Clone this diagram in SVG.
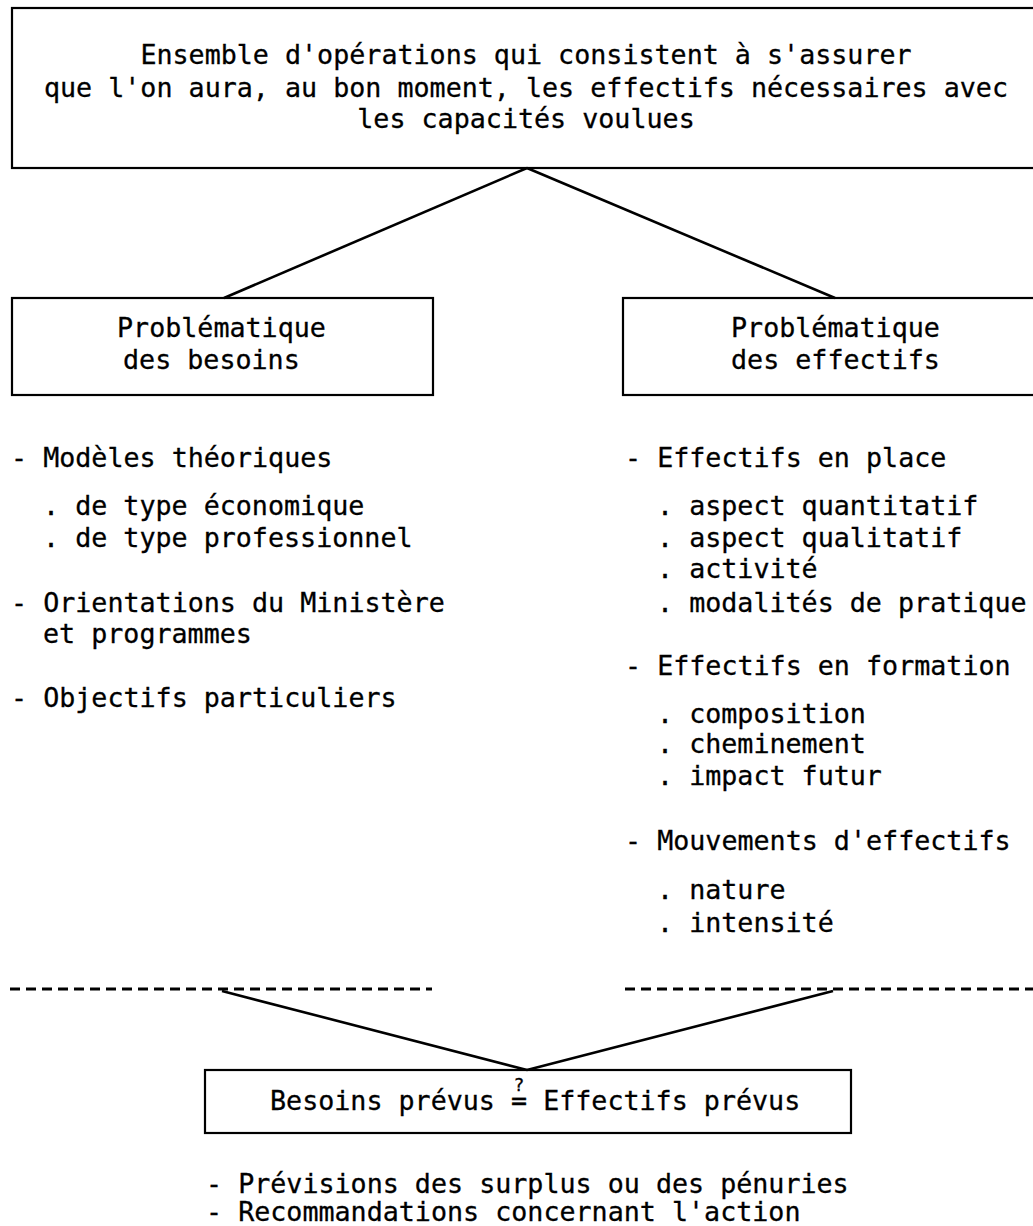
<svg xmlns="http://www.w3.org/2000/svg" width="1033" height="1226" viewBox="0 0 1033 1226">
<style>
  text { font-family: "DejaVu Sans Mono", "Liberation Mono", monospace; font-size: 26.7px; fill: #000; stroke: #000; stroke-width: 0.3; }
  .box { fill: none; stroke: #000; stroke-width: 2.2; }
  .conn { fill: none; stroke: #000; stroke-width: 2.6; }
  .dash { fill: none; stroke: #000; stroke-width: 3; stroke-dasharray: 10 6; }
  .mid { text-anchor: middle; }
  .q { font-size: 18px; }
</style>
<rect width="1033" height="1226" fill="#fff"/>

<g id="connectors">
  <line class="conn" x1="527" y1="168" x2="224" y2="298"/>
  <line class="conn" x1="527" y1="168" x2="835" y2="298"/>
  <line class="conn" x1="222" y1="991" x2="527" y2="1070"/>
  <line class="conn" x1="833" y1="991" x2="527" y2="1070"/>
</g>

<g id="node-top">
  <rect class="box" x="12" y="8" width="1040" height="160"/>
  <text class="mid" x="526" y="64">Ensemble d'opérations qui consistent à s'assurer</text>
  <text class="mid" x="526" y="97">que l'on aura, au bon moment, les effectifs nécessaires avec</text>
  <text class="mid" x="526" y="128">les capacités voulues</text>
</g>

<g id="node-besoins">
  <rect class="box" x="12" y="298" width="421" height="97"/>
  <text x="117" y="337">Problématique</text>
  <text x="123" y="369">des besoins</text>
</g>

<g id="node-effectifs">
  <rect class="box" x="623" y="298" width="430" height="97"/>
  <text x="731" y="337">Problématique</text>
  <text x="731" y="369">des effectifs</text>
</g>

<g id="list-besoins">
  <text x="11" y="467">- Modèles théoriques</text>
  <text x="43" y="515">. de type économique</text>
  <text x="43" y="547">. de type professionnel</text>
  <text x="11" y="612">- Orientations du Ministère</text>
  <text x="43" y="643">et programmes</text>
  <text x="11" y="707">- Objectifs particuliers</text>
  <line class="dash" x1="10" y1="989" x2="432" y2="989"/>
</g>

<g id="list-effectifs">
  <text x="625" y="467">- Effectifs en place</text>
  <text x="657" y="515">. aspect quantitatif</text>
  <text x="657" y="547">. aspect qualitatif</text>
  <text x="657" y="578">. activité</text>
  <text x="657" y="612">. modalités de pratique</text>
  <text x="625" y="675">- Effectifs en formation</text>
  <text x="657" y="723">. composition</text>
  <text x="657" y="753">. cheminement</text>
  <text x="657" y="785">. impact futur</text>
  <text x="625" y="850">- Mouvements d'effectifs</text>
  <text x="657" y="899">. nature</text>
  <text x="657" y="932">. intensité</text>
  <line class="dash" x1="625" y1="989" x2="1033" y2="989"/>
</g>

<g id="node-bilan">
  <rect class="box" x="205" y="1070" width="646" height="63"/>
  <text x="270" y="1110">Besoins prévus = Effectifs prévus</text>
  <text class="q mid" x="519" y="1091">?</text>
</g>

<g id="conclusions">
  <text x="206" y="1193">- Prévisions des surplus ou des pénuries</text>
  <text x="206" y="1221">- Recommandations concernant l'action</text>
</g>
</svg>
